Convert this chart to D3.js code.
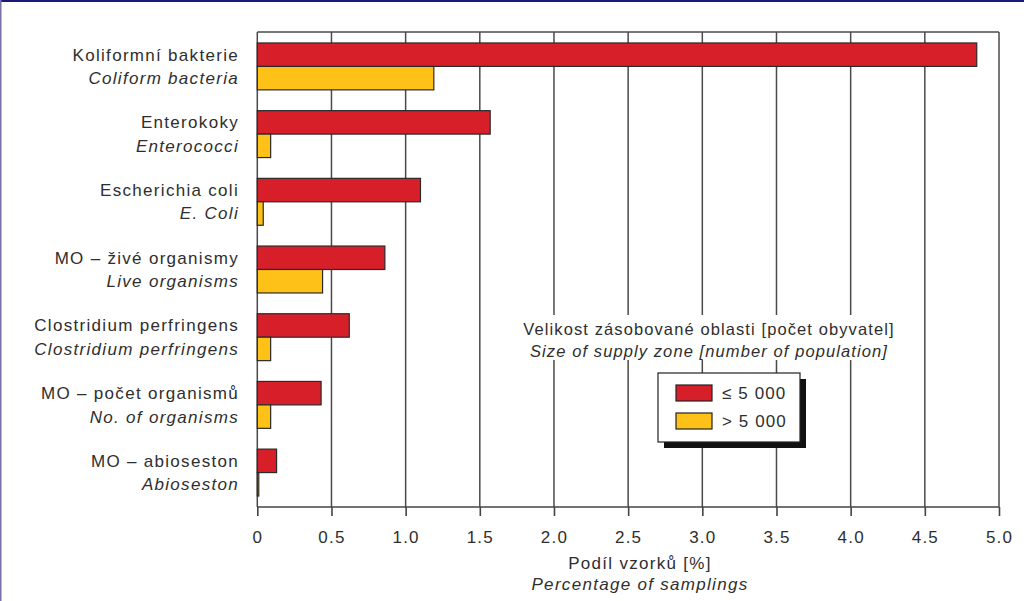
<!DOCTYPE html>
<html>
<head>
<meta charset="utf-8">
<script src="https://cdn.jsdelivr.net/npm/d3@7/dist/d3.min.js"></script>
<style>
html,body{margin:0;padding:0;background:#fff;}
svg{display:block;font-family:"Liberation Sans",Arial,sans-serif;}
</style>
</head>
<body>
<svg id="chart" width="1024" height="601"></svg>
<script>
const categoriesCz = ["Koliformní bakterie","Enterokoky","Escherichia coli","MO – živé organismy","Clostridium perfringens","MO – počet organismů","MO – abioseston"];
const categoriesEn = ["Coliform bacteria","Enterococci","E. Coli","Live organisms","Clostridium perfringens","No. of organisms","Abioseston"];
const small = [4.85, 1.57, 1.10, 0.86, 0.62, 0.43, 0.13];
const large = [1.19, 0.09, 0.04, 0.44, 0.09, 0.09, 0.01];
const seriesNames = ["≤ 5 000", "> 5 000"];
const seriesColors = ["#d71f2a", "#fec117"];
const xTicks = [0,0.5,1.0,1.5,2.0,2.5,3.0,3.5,4.0,4.5,5.0];
const xTitle = ["Podíl vzorků [%]", "Percentage of samplings"];
const legendTitle = ["Velikost zásobované oblasti [počet obyvatel]", "Size of supply zone [number of population]"];

const svg = d3.select("#chart");
const W = 1024, H = 601;
const L = 257.3, R = 999, T = 32, B = 507;
const textCol = "#2e2e2e";
const FS = 17, LS = 1.3;

// outer border
svg.append("line").attr("x1",0).attr("x2",W).attr("y1",1).attr("y2",1).attr("stroke","#1a1a7a").attr("stroke-width",2);
svg.append("line").attr("x1",0.75).attr("x2",0.75).attr("y1",0).attr("y2",H).attr("stroke","#7b6fa8").attr("stroke-width",1.5);

const x = d3.scaleLinear().domain([0,5]).range([L,R]);
const y = d3.scaleBand().domain(categoriesCz).range([T,B]).paddingInner(0.307).paddingOuter(0.162);
const sub = d3.scaleBand().domain([0,1]).range([0,y.bandwidth()]);

// grid lines
svg.append("g").selectAll("line").data(xTicks).join("line")
  .attr("x1",d=>x(d)).attr("x2",d=>x(d)).attr("y1",T).attr("y2",B)
  .attr("stroke","#4a4a4a").attr("stroke-width",1.5);
// top frame
svg.append("line").attr("x1",L).attr("x2",R).attr("y1",T).attr("y2",T).attr("stroke","#4a4a4a").attr("stroke-width",1.5);

// bars
const groups = svg.append("g").selectAll("g").data(categoriesCz).join("g")
  .attr("transform",d=>`translate(0,${y(d)})`);
groups.each(function(c,i){
  const g = d3.select(this);
  [small[i], large[i]].forEach((v,j)=>{
    g.append("rect").attr("x",x(0)).attr("y",sub(j))
      .attr("width",Math.max(x(v)-x(0),0.5)).attr("height",sub.bandwidth())
      .attr("fill",seriesColors[j]).attr("stroke","#2a2a2a").attr("stroke-width",1.2);
  });
});

// x axis
const xAxis = d3.axisBottom(x).tickValues(xTicks).tickSize(9).tickPadding(15)
  .tickFormat(d=> d===0 ? "0" : d3.format(".1f")(d));
const ax = svg.append("g").attr("transform",`translate(0,${B})`).call(xAxis);
ax.select(".domain").attr("stroke","#444").attr("stroke-width",1.6).attr("d",`M${L},0H${R}`);
ax.selectAll(".tick line").attr("stroke","#444").attr("stroke-width",1.6);
ax.selectAll(".tick text").attr("fill",textCol).attr("font-size",FS).attr("letter-spacing",1.2)
  .attr("font-family","'Liberation Sans',Arial,sans-serif");

// y labels
const lab = svg.append("g").attr("letter-spacing",LS);
categoriesCz.forEach((c,i)=>{
  lab.append("text").attr("x",239).attr("y",y(c)+sub(0)+sub.bandwidth()/2).attr("dy","0.35em")
    .attr("text-anchor","end").attr("font-size",FS).attr("fill",textCol).text(c);
  lab.append("text").attr("x",239).attr("y",y(c)+sub(1)+sub.bandwidth()/2).attr("dy","0.35em")
    .attr("text-anchor","end").attr("font-size",FS).attr("font-style","italic").attr("fill",textCol).text(categoriesEn[i]);
});

// axis title
const cx = 640;
svg.append("text").attr("x",cx).attr("y",569).attr("text-anchor","middle").attr("letter-spacing",LS).attr("font-size",FS).attr("fill",textCol).text(xTitle[0]);
svg.append("text").attr("x",cx).attr("y",590).attr("text-anchor","middle").attr("letter-spacing",LS).attr("font-size",FS).attr("font-style","italic").attr("fill",textCol).text(xTitle[1]);

// legend title
svg.append("rect").attr("x",515).attr("y",315).attr("width",392).attr("height",45).attr("fill","#fff");
svg.append("text").attr("x",709).attr("y",335).attr("text-anchor","middle").attr("letter-spacing",1.1).attr("font-size",16.5).attr("fill",textCol).text(legendTitle[0]);
svg.append("text").attr("x",709).attr("y",357).attr("text-anchor","middle").attr("letter-spacing",1.1).attr("font-size",16.5).attr("font-style","italic").attr("fill",textCol).text(legendTitle[1]);

// legend box
const lg = svg.append("g");
lg.append("rect").attr("x",664).attr("y",379).attr("width",142).attr("height",69).attr("fill","#111");
lg.append("rect").attr("x",658).attr("y",373).attr("width",142).attr("height",69).attr("fill","#fff").attr("stroke","#222").attr("stroke-width",1.2);
seriesNames.forEach((s,j)=>{
  const yy = 385 + j*28;
  lg.append("rect").attr("x",676).attr("y",yy).attr("width",36).attr("height",16)
    .attr("fill",seriesColors[j]).attr("stroke","#222").attr("stroke-width",1.2);
  lg.append("text").attr("x",722).attr("y",yy+8).attr("dy","0.35em").attr("letter-spacing",1.1).attr("font-size",FS).attr("fill",textCol).text(s);
});
</script>
</body>
</html>
